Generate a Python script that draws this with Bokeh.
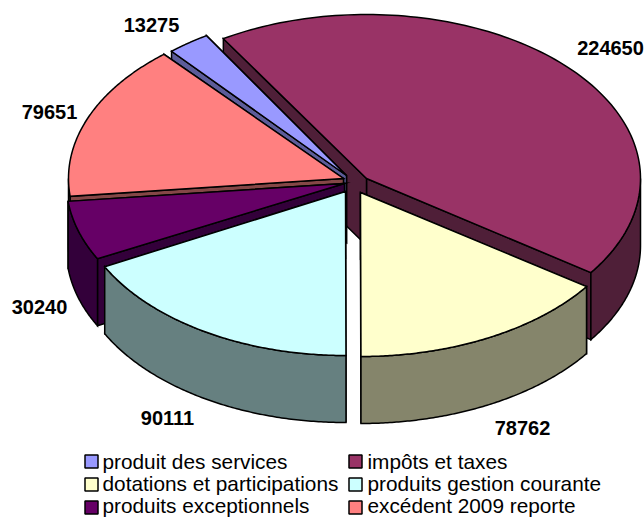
import numpy as np
from bokeh.plotting import figure
from bokeh.models import Range1d
from bokeh.embed import file_html
from bokeh.resources import INLINE
from bokeh.core.properties import value

names = ["produit des services", "impôts et taxes", "dotations et participations",
         "produits gestion courante", "produits exceptionnels", "excédent 2009 reporte"]
values = [13275, 224650, 78762, 90111, 30240, 79651]
top_colors = ["#9999FF", "#993366", "#FFFFCC", "#CCFFFF", "#660066", "#FF8080"]
side_colors = ["#5C5C99", "#4F1F38", "#85856B", "#668080", "#33003A", "#854747"]

# layout of the drawing, in page pixels
START = -40.75
RY, DEPTH = 164, 67
rx = [268, 274, 276, 271, 278, 275]
apex = [(346, 175), (366, 178), (360, 192), (345, 191), (344, 183), (343, 178)]
draw_order = [1, 0, 5, 4, 2, 3]
label_pos = [(151, 24), (610, 47), (522, 427), (167, 417), (39, 306), (49, 111)]
swatch_pos = [(91, 461), (355, 461), (91, 484), (355, 484), (91, 507), (355, 507)]
legend_text_pos = [(102, 461), (367, 461), (102, 483), (367, 483), (102, 505), (367, 505)]

p = figure(width=644, height=517, output_backend="svg", toolbar_location=None,
           x_range=Range1d(0, 644), y_range=Range1d(517, 0), min_border=0)
p.axis.visible = False
p.grid.visible = False
p.outline_line_color = None
p.background_fill_color = "white"

angles = np.array(values) / sum(values) * 360
edges = START + np.concatenate([[0], np.cumsum(angles)])

def arc(i, a, b):
    t = np.radians(np.linspace(a, b, 120))
    return apex[i][0] + rx[i] * np.sin(t), apex[i][1] - RY * np.cos(t)

def poly(xs, ys, fill):
    p.patch(xs, ys, fill_color=fill, line_color="black", line_width=1.5, line_join="miter")

for i in draw_order:
    a, b = edges[i], edges[i + 1]
    ax, ay = apex[i]
    for t in (b, a):
        ex, ey = arc(i, t, t)
        ex, ey = ex[0], ey[0]
        poly([ax, ex, ex, ax], [ay, ey, ey + DEPTH, ay + DEPTH], side_colors[i])
    lo, hi = max(a, 90), min(b, 270)
    if hi > lo:
        sx, sy = arc(i, lo, hi)
        poly(np.r_[sx, sx[::-1]], np.r_[sy, sy[::-1] + DEPTH], side_colors[i])
    tx, ty = arc(i, a, b)
    poly(np.r_[ax, tx], np.r_[ay, ty], top_colors[i])

p.text([q[0] for q in label_pos], [q[1] for q in label_pos], text=[str(v) for v in values],
       text_font=value("Liberation Sans"), text_font_style="bold", text_font_size="20px",
       text_align="center", text_baseline="middle", text_color="black")

p.rect([q[0] for q in swatch_pos], [q[1] for q in swatch_pos], width=13, height=13,
       fill_color=top_colors, line_color="black", line_width=1.5)
p.text([q[0] for q in legend_text_pos], [q[1] for q in legend_text_pos], text=names,
       text_font=value("Liberation Sans"), text_font_size="20.8px",
       text_align="left", text_baseline="middle", text_color="black")

open("out.html", "w").write(file_html(p, INLINE))
